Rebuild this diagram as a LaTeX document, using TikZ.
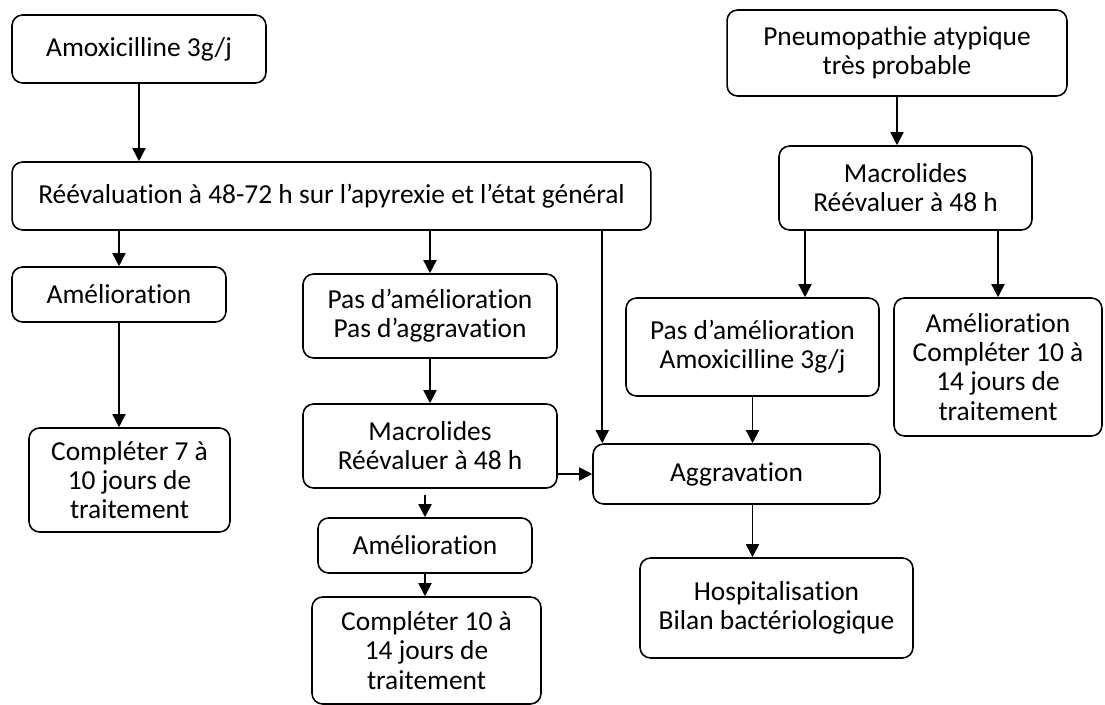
\documentclass[tikz,border=0pt]{standalone}
\usepackage{fontspec}
\setmainfont{Carlito}[Ligatures=NoCommon]
\usetikzlibrary{arrows.meta, calc}

\begin{document}
\begin{tikzpicture}[x=0.02cm, y=-0.02cm, >={Triangle[length=7.5pt, width=7.5pt]},
    font=\fontsize{15.6}{16.6}\selectfont,
    box/.style={draw, line width=0.9pt, rounded corners=6pt, align=center, inner sep=2pt},
    arr/.style={->, line width=0.9pt}]

    \useasboundingbox (0,0) rectangle (1105,705);

    % 1. Colonne de gauche : amoxicilline
    \node[box, minimum width=5.08cm, minimum height=1.36cm] (amox) at (139,49) {Amoxicilline 3g/j};
    \node[box, minimum width=12.78cm, minimum height=1.36cm] (reeval) at (331.5,196)
        {Réévaluation à 48-72 h sur l’apyrexie et l’état général};
    \node[box, minimum width=4.28cm, minimum height=1.10cm] (amel) at (119,294.5) {Amélioration};
    \node[box, minimum width=4.02cm, minimum height=2.08cm] (compl) at (129.5,480)
        {Compléter 7 à\\10 jours de\\traitement};

    % 2. Colonne du milieu : pas d'amélioration
    \node[box, minimum width=5.08cm, minimum height=1.68cm] (pasam) at (430,316)
        {Pas d’amélioration\\Pas d’aggravation};
    \node[box, minimum width=5.08cm, minimum height=1.68cm] (macro) at (430,446)
        {Macrolides\\Réévaluer à 48 h};
    \node[box, minimum width=4.28cm, minimum height=1.10cm] (amelm) at (425,545.5) {Amélioration};
    \node[box, minimum width=4.58cm, minimum height=2.14cm] (complm) at (426.5,650.5)
        {Compléter 10 à\\14 jours de\\traitement};

    % 3. Aggravation et hospitalisation
    \node[box, minimum width=5.74cm, minimum height=1.20cm] (aggr) at (736.5,474) {Aggravation};
    \node[box, minimum width=5.46cm, minimum height=2.00cm] (hosp) at (776.5,608)
        {Hospitalisation\\Bilan bactériologique};

    % 4. Colonne de droite : pneumopathie atypique
    \node[box, minimum width=6.80cm, minimum height=1.72cm] (pneu) at (897,53)
        {Pneumopathie atypique\\très probable};
    \node[box, minimum width=5.06cm, minimum height=1.68cm] (macror) at (905.5,188)
        {Macrolides\\Réévaluer à 48 h};
    \node[box, minimum width=5.06cm, minimum height=1.96cm] (pasamox) at (752.5,347)
        {Pas d’amélioration\\Amoxicilline 3g/j};
    \node[box, minimum width=4.16cm, minimum height=2.76cm] (amelr) at (998,367)
        {Amélioration\\Compléter 10 à\\14 jours de\\traitement};

    % 5. Flèches
    \draw[arr] (amox.south) -- (amox.south |- reeval.north);
    \draw[arr] (amel.north |- reeval.south) -- (amel.north);
    \draw[arr] (amel.south) -- (amel.south |- compl.north);
    \draw[arr] (pasam.north |- reeval.south) -- (pasam.north);
    \draw[arr] (pasam.south) -- (macro.north);
    \draw[arr] ($(amelm.north |- macro.south)+(0,6)$) -- (amelm.north);
    \draw[arr] (amelm.south) -- (amelm.south |- complm.north);
    \draw[arr] ($(aggr.north west |- reeval.south)+(10,0)$) -- ($(aggr.north west)+(10,0)$);
    \draw[arr] (macro.east |- aggr.west) -- (aggr.west);
    \draw[arr] (pasamox.south) -- (pasamox.south |- aggr.north);
    \draw[arr] (pasamox.south |- aggr.south) -- (pasamox.south |- hosp.north);
    \draw[arr] (pneu.south) -- (pneu.south |- macror.north);
    \draw[arr] (macror.south -| 805,0) -- (pasamox.north -| 805,0);
    \draw[arr] (amelr.north |- macror.south) -- (amelr.north);

\end{tikzpicture}
\end{document}
